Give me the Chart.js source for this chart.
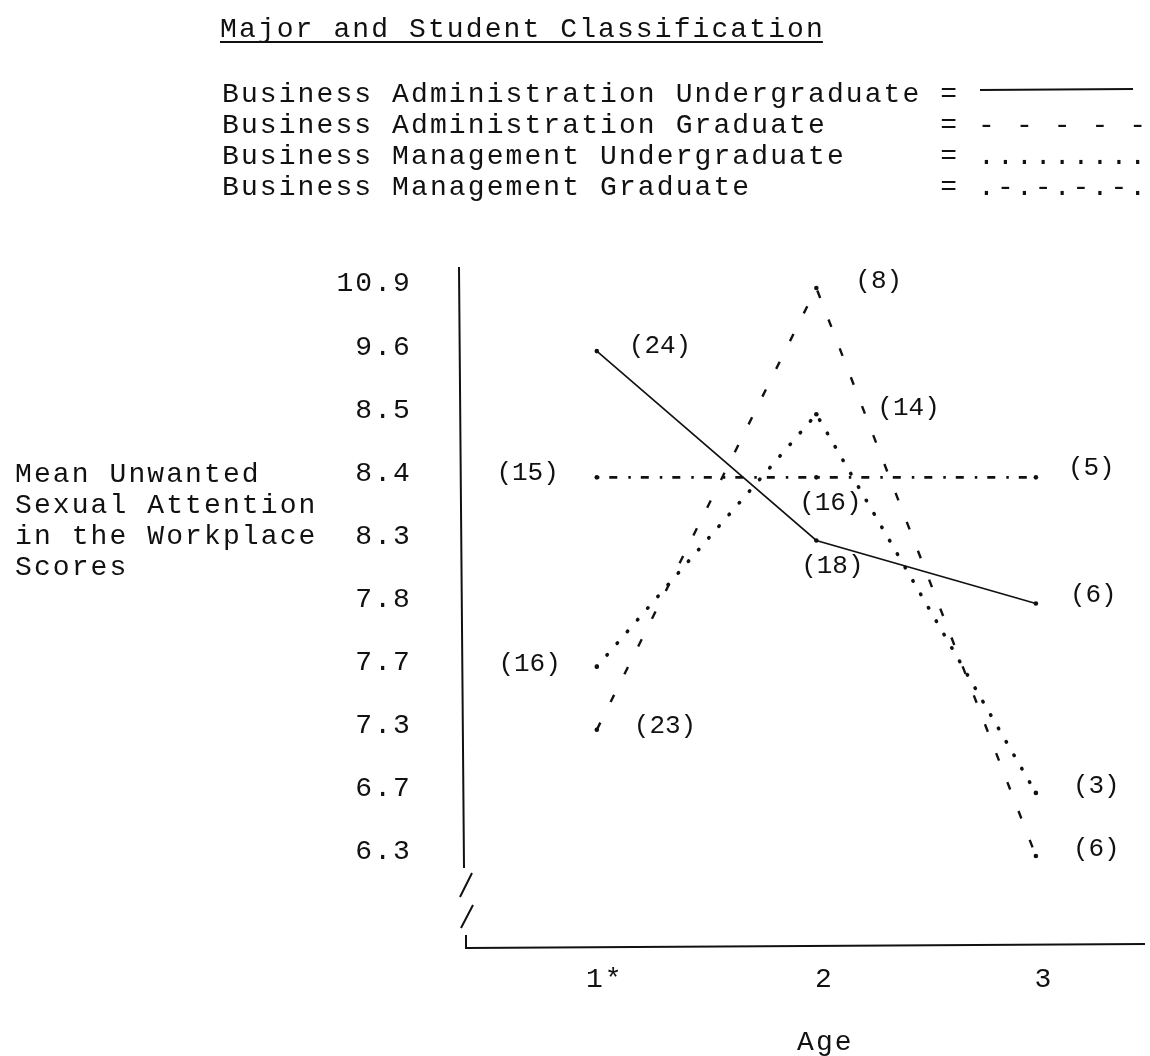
<!DOCTYPE html>
<html lang="en">
<head>
<meta charset="UTF-8">
<title>Major and Student Classification</title>
<script src="https://cdn.jsdelivr.net/npm/chart.js@4.4.0/dist/chart.umd.min.js"></script>
<style>
  html, body { margin: 0; padding: 0; background: #fff; }
  canvas { display: block; }
</style>
</head>
<body>
<canvas id="chart" width="1150" height="1056"></canvas>
<script>
// age groups along the bottom
const ageLabels = ['1*', '2', '3'];
// printed y values, evenly spaced in the original (not to scale)
const yTicks = [10.9, 9.6, 8.5, 8.4, 8.3, 7.8, 7.7, 7.3, 6.7, 6.3];

const seriesNames = [
  'Business Administration Undergraduate',
  'Business Administration Graduate',
  'Business Management Undergraduate',
  'Business Management Graduate'
];
// mean scores per age group
const baUnder = [9.6, 8.3, 7.8];
const baGrad = [7.3, 10.9, 6.3];
const bmUnder = [7.7, 8.5, 6.7];
const bmGrad = [8.4, 8.4, 8.4];
// group sizes shown in brackets
const baUnderN = [24, 18, 6];
const baGradN = [23, 8, 6];
const bmUnderN = [16, 14, 3];
const bmGradN = [15, 16, 5];

const ink = '#111';
const mono = '"Liberation Mono", "Courier New", monospace';

// each value sits on the row of its printed tick
function toPoints(vals) {
  return vals.map((v, i) => ({ x: i + 1, y: yTicks.indexOf(v) }));
}

function lineSet(name, vals, counts, style, labelAt) {
  return Object.assign({
    label: name,
    data: toPoints(vals),
    counts: counts,
    labelAt: labelAt,
    borderColor: ink,
    backgroundColor: ink,
    pointRadius: 2.3,
    pointBorderWidth: 0,
    pointBackgroundColor: ink,
    tension: 0,
    fill: false
  }, style);
}

const datasets = [
  lineSet(seriesNames[0], baUnder, baUnderN,
    { borderWidth: 1.6 },
    [[32, -5, 'left'], [16, 26, 'center'], [34, -8, 'left']]),
  lineSet(seriesNames[1], baGrad, baGradN,
    { borderWidth: 2.4, borderDash: [8, 23] },
    [[37, -4, 'left'], [39, -7, 'left'], [37, -7, 'left']]),
  lineSet(seriesNames[2], bmUnder, bmUnderN,
    { borderWidth: 3.6, borderDash: [0.5, 15], borderCapStyle: 'round' },
    [[-36, -3, 'right'], [61, -6, 'left'], [37, -7, 'left']]),
  lineSet(seriesNames[3], bmGrad, bmGradN,
    { borderWidth: 2.6, borderDash: [2.5, 10, 8, 11] },
    [[-38, -4, 'right'], [14, 26, 'center'], [32, -9, 'left']])
];

// typed legend marks after the "=" column
const legendMarks = ['', '- - - - -', '.........', '.-.-.-.-.'];
const yTitleLines = ['Mean Unwanted', 'Sexual Attention', 'in the Workplace', 'Scores'];

const typewriter = {
  id: 'typewriter',
  beforeDraw(chart) {
    // wide typewriter spacing for all text
    chart.ctx.letterSpacing = '2.1px';
  },
  afterDraw(chart) {
    const ctx = chart.ctx;
    const area = chart.chartArea;
    const xs = chart.scales.x;
    ctx.save();
    ctx.fillStyle = ink;
    ctx.strokeStyle = ink;
    ctx.font = '28px ' + mono;
    ctx.textBaseline = 'alphabetic';
    ctx.textAlign = 'left';

    // heading, underlined
    const head = 'Major and Student Classification';
    ctx.fillText(head, 220, 37);
    ctx.lineWidth = 2;
    ctx.beginPath();
    ctx.moveTo(220, 42);
    ctx.lineTo(220 + ctx.measureText(head).width - 2, 42);
    ctx.stroke();

    // legend rows
    seriesNames.forEach((name, i) => {
      const y = 102 + i * 31;
      ctx.fillText(name.padEnd(38, ' ') + '= ' + legendMarks[i], 222, y);
    });
    ctx.lineWidth = 2;
    ctx.beginPath();
    ctx.moveTo(980, 90);
    ctx.lineTo(1133, 89);
    ctx.stroke();

    // y axis title, horizontal on the left
    yTitleLines.forEach((t, i) => ctx.fillText(t, 15, 482 + i * 31));

    // x axis title under the middle group
    ctx.textAlign = 'center';
    ctx.fillText('Age', xs.getPixelForValue(2) + 9, 1050);

    // broken y axis and the x axis
    ctx.lineWidth = 2;
    ctx.beginPath();
    ctx.moveTo(area.left - 3, area.top);
    ctx.lineTo(area.left + 2, area.bottom - 80);
    ctx.moveTo(area.left + 10, area.bottom - 75);
    ctx.lineTo(area.left - 2, area.bottom - 51);
    ctx.moveTo(area.left + 11, area.bottom - 43);
    ctx.lineTo(area.left - 1, area.bottom - 20);
    ctx.moveTo(area.left + 4, area.bottom - 13);
    ctx.lineTo(area.left + 4, area.bottom);
    ctx.lineTo(area.right, area.bottom - 4);
    ctx.stroke();
    ctx.restore();
  }
};

const counts = {
  id: 'counts',
  afterDatasetsDraw(chart) {
    const ctx = chart.ctx;
    ctx.save();
    ctx.letterSpacing = '0px';
    ctx.fillStyle = ink;
    ctx.font = '26px ' + mono;
    ctx.textBaseline = 'middle';
    chart.data.datasets.forEach((ds, di) => {
      chart.getDatasetMeta(di).data.forEach((pt, i) => {
        const [dx, dy, align] = ds.labelAt[i];
        ctx.textAlign = align;
        ctx.fillText('(' + ds.counts[i] + ')', pt.x + dx, pt.y + dy);
      });
    });
    ctx.restore();
  }
};

Chart.defaults.font.family = mono;
Chart.defaults.color = ink;

new Chart(document.getElementById('chart'), {
  type: 'line',
  data: { datasets: datasets },
  options: {
    responsive: false,
    animation: false,
    events: [],
    layout: { padding: { top: 267, right: 5, left: 0, bottom: 0 } },
    plugins: { legend: { display: false }, tooltip: { enabled: false } },
    scales: {
      x: {
        type: 'linear',
        min: 0.386,
        max: 3.497,
        afterBuildTicks: s => { s.ticks = ageLabels.map((_, i) => ({ value: i + 1 })); },
        afterFit: s => { s.height = 108; s.paddingLeft = 0; s.paddingRight = 0; },
        grid: { display: false, drawTicks: false },
        border: { display: false },
        ticks: {
          callback: v => ageLabels[v - 1],
          font: { size: 28 },
          padding: 15,
          labelOffset: 8,
          maxRotation: 0,
          autoSkip: false
        }
      },
      y: {
        type: 'linear',
        reverse: true,
        min: -0.333,
        max: 10.458,
        afterBuildTicks: s => { s.ticks = yTicks.map((_, i) => ({ value: i })); },
        afterFit: s => { s.width = 462; s.paddingTop = 0; s.paddingBottom = 0; },
        grid: { display: false, drawTicks: false },
        border: { display: false },
        ticks: {
          callback: v => yTicks[v].toFixed(1),
          font: { size: 28 },
          padding: 50,
          labelOffset: -4,
          autoSkip: false
        }
      }
    }
  },
  plugins: [typewriter, counts]
});
</script>
</body>
</html>
